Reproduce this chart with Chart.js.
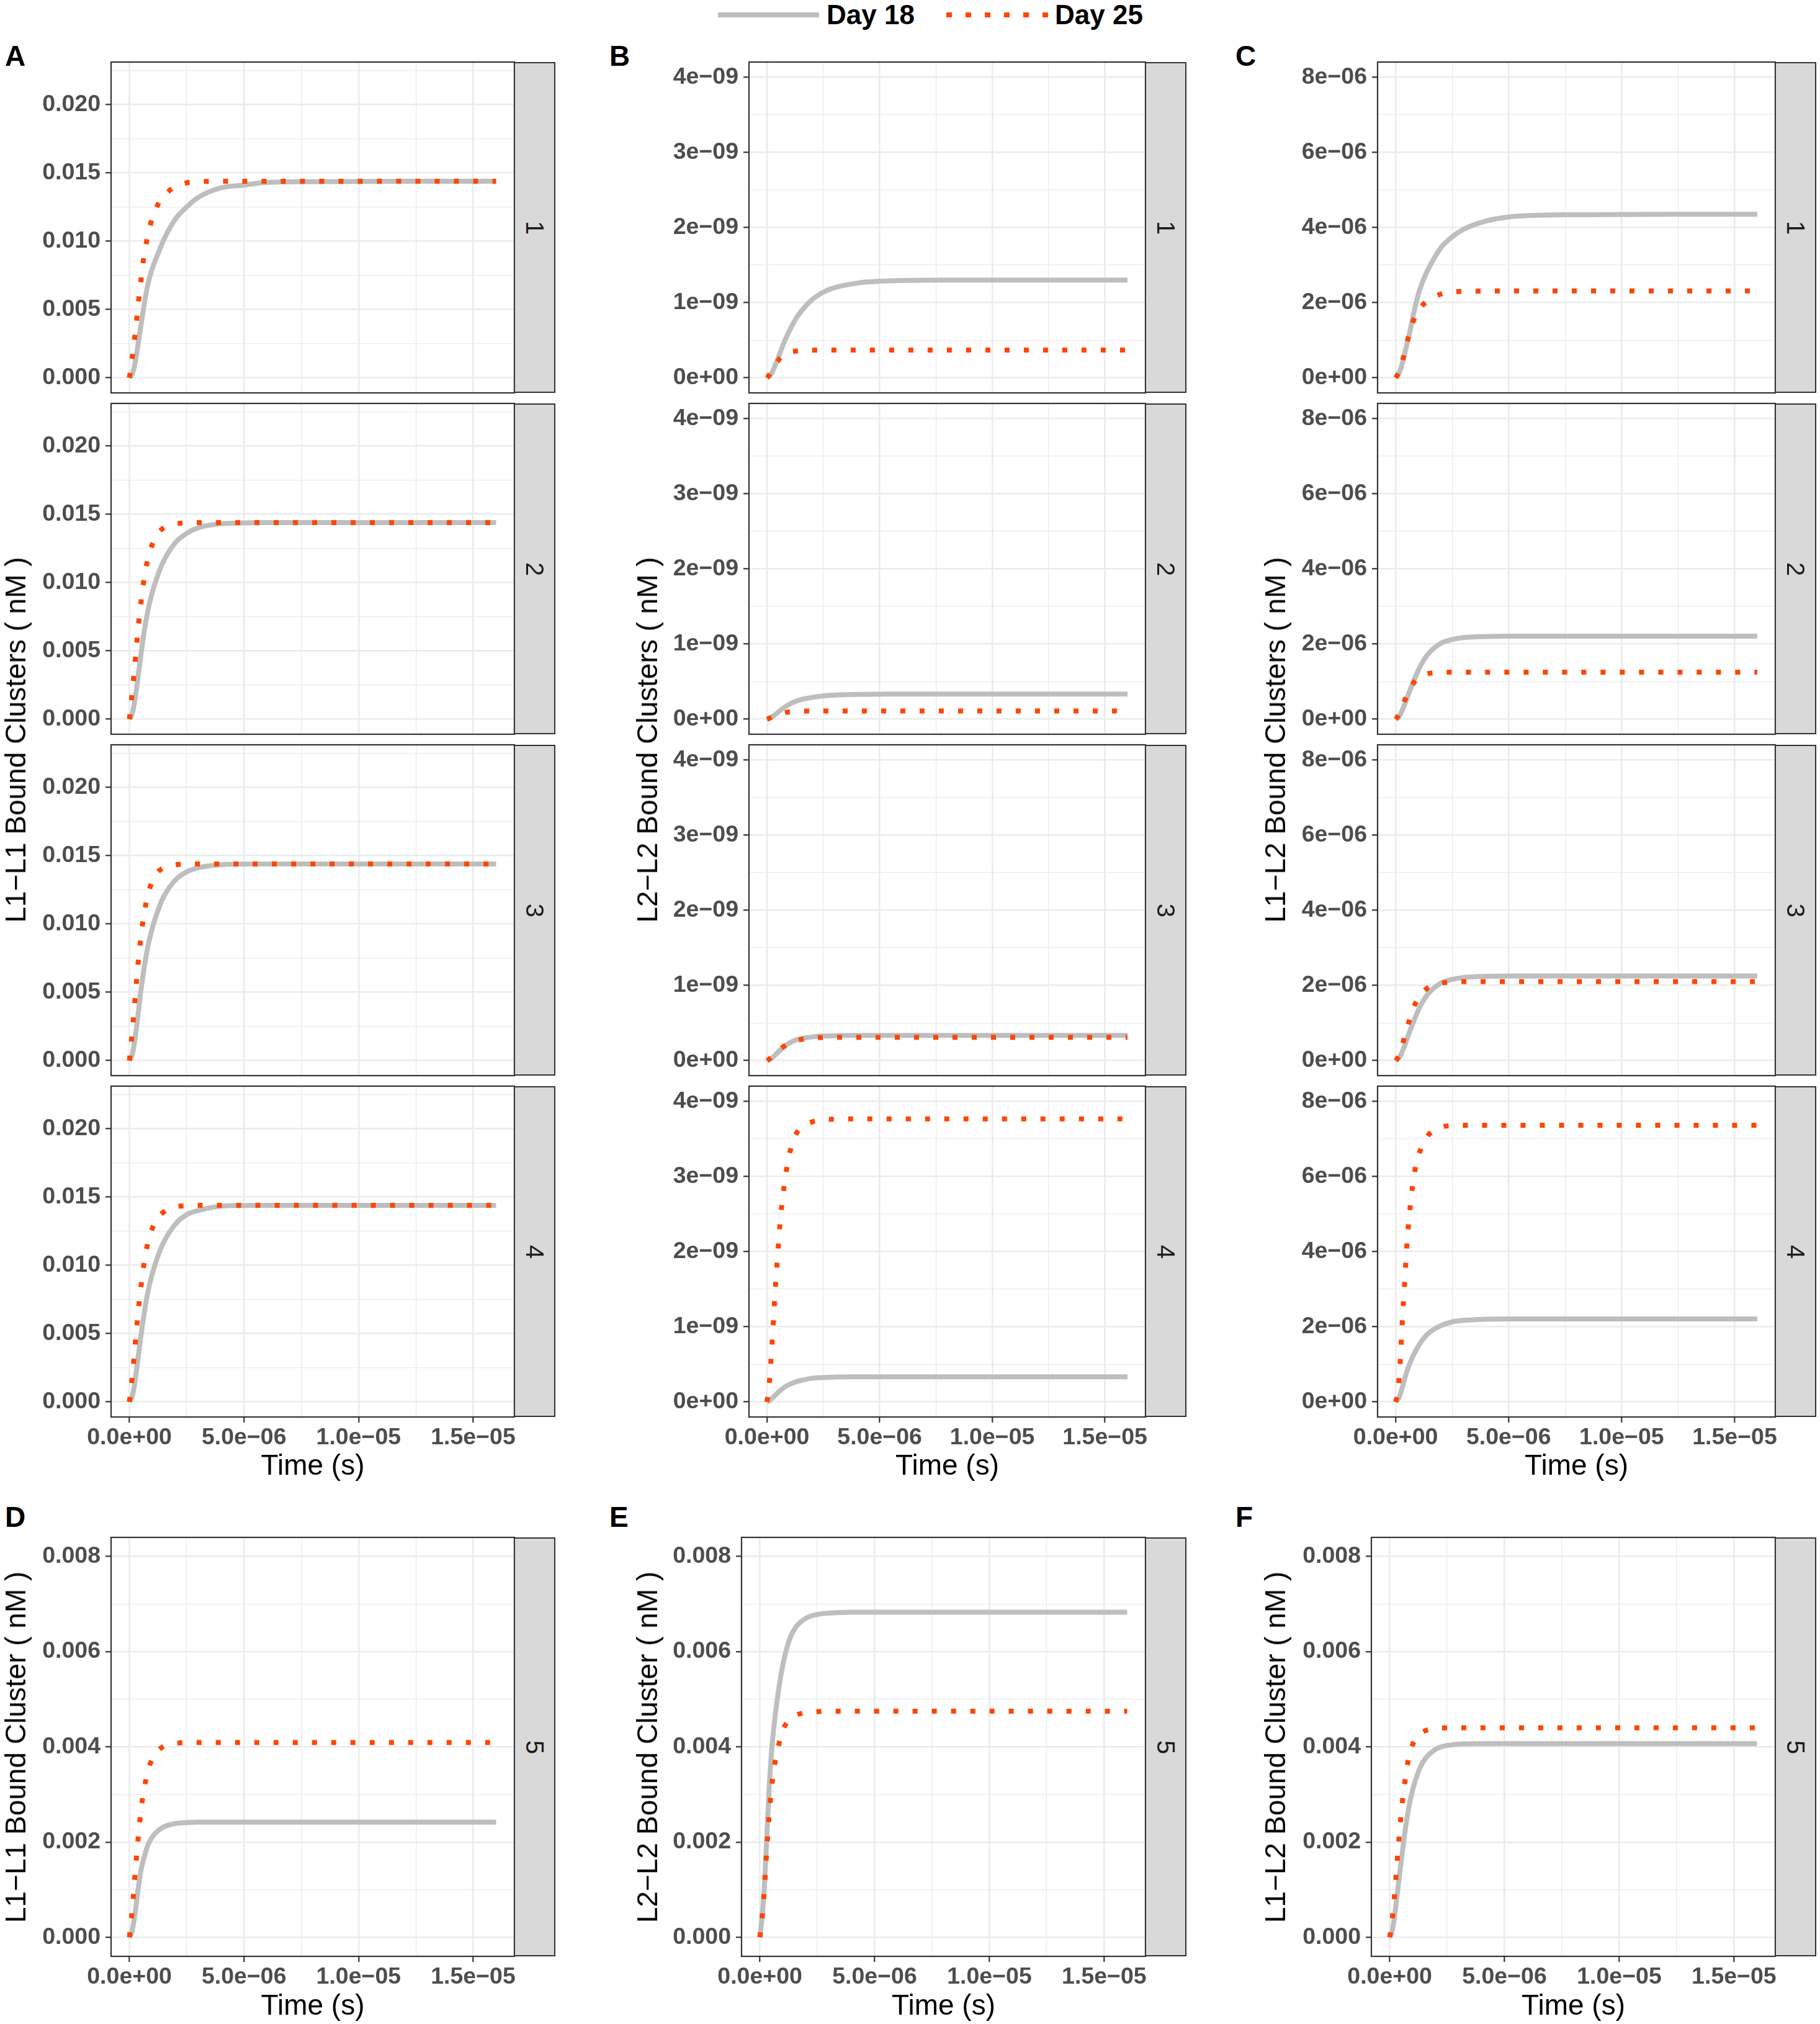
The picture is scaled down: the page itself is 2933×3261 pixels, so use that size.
<!DOCTYPE html>
<html><head><meta charset="utf-8">
<script src="https://cdn.jsdelivr.net/npm/chart.js@4.4.0/dist/chart.umd.min.js"></script>
<style>
html,body{margin:0;padding:0;background:#fff;}
body{width:2933px;height:3261px;position:relative;overflow:hidden;font-family:'Liberation Sans',Arial,Helvetica,sans-serif;}
canvas{position:absolute;}
.txt{position:absolute;z-index:5;white-space:nowrap;}
.plbl{font-weight:bold;font-size:46px;line-height:46px;color:#000;}
.xt{font-size:46px;line-height:46px;color:#000;transform:translateX(-50%);}
.yt{font-size:46px;line-height:46px;color:#000;transform:translate(-50%,-50%) rotate(-90deg);}
.strip{position:absolute;z-index:4;background:#D9D9D9;border:2px solid #333;box-sizing:border-box;}
.strip span{position:absolute;left:50%;top:50%;transform:translate(-50%,-50%) rotate(90deg);font-size:40px;line-height:40px;color:#1A1A1A;}
.leg{font-weight:bold;font-size:44px;line-height:44px;color:#000;}
</style></head><body>
<script>
// ---------- data ----------
const timeS = [0, 1e-7, 2e-7, 3e-7, 4e-7, 5e-7, 6e-7, 8e-7, 1e-6, 1.25e-6, 1.5e-6, 2e-6, 2.5e-6, 3e-6, 4e-6, 5e-6, 6e-6, 8e-6, 1.2e-5, 1.6e-5];

const seriesNames = ["Day 18", "Day 25"];

const xTickValues = [0, 2.5e-6, 5e-6, 7.5e-6, 1e-5, 1.25e-5, 1.5e-5];
const xTickLabels = ["0.0e+00", "5.0e\u221206", "1.0e\u221205", "1.5e\u221205"];

const yTicksA = [0, 0.0025, 0.005, 0.0075, 0.01, 0.0125, 0.015, 0.0175, 0.02, 0.0225];
const yLabelsA = ["0.000", "0.005", "0.010", "0.015", "0.020"];
const yTicksB = [0, 0.5e-9, 1e-9, 1.5e-9, 2e-9, 2.5e-9, 3e-9, 3.5e-9, 4e-9];
const yLabelsB = ["0e+00", "1e\u221209", "2e\u221209", "3e\u221209", "4e\u221209"];
const yTicksC = [0, 1e-6, 2e-6, 3e-6, 4e-6, 5e-6, 6e-6, 7e-6, 8e-6];
const yLabelsC = ["0e+00", "2e\u221206", "4e\u221206", "6e\u221206", "8e\u221206"];
const yTicksD = [0, 0.001, 0.002, 0.003, 0.004, 0.005, 0.006, 0.007, 0.008];
const yLabelsD = ["0.000", "0.002", "0.004", "0.006", "0.008"];

// Column A: L1-L1 bound clusters
const A1_day18 = [0, 0.0002, 0.0007, 0.0016, 0.0027, 0.0038, 0.0049, 0.0068, 0.0080, 0.0091, 0.0101, 0.0116, 0.0125, 0.0132, 0.0139, 0.0141, 0.0143, 0.01435, 0.01438, 0.01438];
const A1_day25 = [0, 0.0012, 0.0025, 0.0040, 0.0056, 0.0071, 0.0085, 0.0104, 0.0117, 0.0127, 0.0133, 0.0140, 0.01427, 0.01435, 0.01438, 0.01438, 0.01438, 0.01438, 0.01438, 0.01438];
const A2_day18 = [0, 0.0003, 0.0010, 0.0021, 0.0034, 0.0047, 0.0059, 0.0079, 0.0093, 0.0106, 0.0116, 0.0129, 0.0136, 0.0140, 0.0143, 0.01436, 0.01438, 0.01438, 0.01438, 0.01438];
const A2_day25 = [0, 0.0016, 0.0033, 0.0052, 0.0070, 0.0085, 0.0098, 0.0117, 0.0128, 0.0136, 0.0140, 0.01428, 0.01436, 0.01438, 0.01438, 0.01438, 0.01438, 0.01438, 0.01438, 0.01438];
const A3_day18 = [0, 0.0003, 0.0011, 0.0023, 0.0037, 0.0051, 0.0063, 0.0083, 0.0097, 0.0110, 0.0120, 0.0132, 0.0138, 0.0141, 0.01433, 0.01437, 0.01438, 0.01438, 0.01438, 0.01438];
const A3_day25 = [0, 0.0017, 0.0036, 0.0056, 0.0075, 0.0090, 0.0103, 0.0121, 0.0131, 0.0138, 0.0141, 0.01432, 0.01437, 0.01438, 0.01438, 0.01438, 0.01438, 0.01438, 0.01438, 0.01438];
const A4_day18 = [0, 0.0003, 0.0010, 0.0022, 0.0035, 0.0048, 0.0060, 0.0080, 0.0094, 0.0107, 0.0117, 0.0130, 0.0137, 0.0140, 0.01432, 0.01437, 0.01438, 0.01438, 0.01438, 0.01438];
const A4_day25 = [0, 0.0015, 0.0032, 0.0051, 0.0069, 0.0084, 0.0097, 0.0116, 0.0127, 0.0135, 0.0139, 0.01427, 0.01435, 0.01438, 0.01438, 0.01438, 0.01438, 0.01438, 0.01438, 0.01438];

// Column B: L2-L2 bound clusters
const B1_day18 = [0, 0.02e-9, 0.06e-9, 0.12e-9, 0.19e-9, 0.27e-9, 0.35e-9, 0.50e-9, 0.63e-9, 0.77e-9, 0.88e-9, 1.04e-9, 1.14e-9, 1.20e-9, 1.26e-9, 1.285e-9, 1.295e-9, 1.30e-9, 1.30e-9, 1.30e-9];
const B1_day25 = [0, 0.04e-9, 0.09e-9, 0.14e-9, 0.19e-9, 0.23e-9, 0.27e-9, 0.31e-9, 0.34e-9, 0.355e-9, 0.363e-9, 0.368e-9, 0.37e-9, 0.37e-9, 0.37e-9, 0.37e-9, 0.37e-9, 0.37e-9, 0.37e-9, 0.37e-9];
const B2_day18 = [0, 0.01e-9, 0.025e-9, 0.045e-9, 0.07e-9, 0.095e-9, 0.12e-9, 0.165e-9, 0.20e-9, 0.235e-9, 0.26e-9, 0.29e-9, 0.31e-9, 0.32e-9, 0.33e-9, 0.333e-9, 0.335e-9, 0.335e-9, 0.335e-9, 0.335e-9];
const B2_day25 = [0, 0.012e-9, 0.026e-9, 0.04e-9, 0.053e-9, 0.064e-9, 0.073e-9, 0.088e-9, 0.097e-9, 0.104e-9, 0.107e-9, 0.11e-9, 0.11e-9, 0.11e-9, 0.11e-9, 0.11e-9, 0.11e-9, 0.11e-9, 0.11e-9, 0.11e-9];
const B3_day18 = [0, 0.012e-9, 0.03e-9, 0.055e-9, 0.085e-9, 0.115e-9, 0.145e-9, 0.195e-9, 0.235e-9, 0.27e-9, 0.29e-9, 0.315e-9, 0.326e-9, 0.331e-9, 0.334e-9, 0.335e-9, 0.335e-9, 0.335e-9, 0.335e-9, 0.335e-9];
const B3_day25 = [0, 0.02e-9, 0.045e-9, 0.075e-9, 0.105e-9, 0.135e-9, 0.16e-9, 0.20e-9, 0.235e-9, 0.26e-9, 0.28e-9, 0.30e-9, 0.307e-9, 0.31e-9, 0.31e-9, 0.31e-9, 0.31e-9, 0.31e-9, 0.31e-9, 0.31e-9];
const B4_day18 = [0, 0.015e-9, 0.04e-9, 0.07e-9, 0.10e-9, 0.13e-9, 0.155e-9, 0.20e-9, 0.235e-9, 0.265e-9, 0.285e-9, 0.315e-9, 0.325e-9, 0.331e-9, 0.334e-9, 0.335e-9, 0.335e-9, 0.335e-9, 0.335e-9, 0.335e-9];
const B4_day25 = [0, 0.24e-9, 0.66e-9, 1.15e-9, 1.65e-9, 2.06e-9, 2.45e-9, 2.96e-9, 3.30e-9, 3.54e-9, 3.64e-9, 3.725e-9, 3.755e-9, 3.76e-9, 3.765e-9, 3.765e-9, 3.765e-9, 3.765e-9, 3.765e-9, 3.765e-9];

// Column C: L1-L2 bound clusters
const C1_day18 = [0, 0.07e-6, 0.2e-6, 0.40e-6, 0.64e-6, 0.90e-6, 1.15e-6, 1.72e-6, 2.22e-6, 2.64e-6, 2.96e-6, 3.46e-6, 3.75e-6, 3.95e-6, 4.17e-6, 4.28e-6, 4.32e-6, 4.34e-6, 4.35e-6, 4.35e-6];
const C1_day25 = [0, 0.1e-6, 0.26e-6, 0.45e-6, 0.68e-6, 0.94e-6, 1.15e-6, 1.54e-6, 1.78e-6, 1.97e-6, 2.08e-6, 2.23e-6, 2.28e-6, 2.30e-6, 2.31e-6, 2.31e-6, 2.31e-6, 2.31e-6, 2.31e-6, 2.31e-6];
const C2_day18 = [0, 0.04e-6, 0.12e-6, 0.25e-6, 0.40e-6, 0.56e-6, 0.72e-6, 1.02e-6, 1.30e-6, 1.58e-6, 1.78e-6, 2.02e-6, 2.12e-6, 2.17e-6, 2.20e-6, 2.21e-6, 2.21e-6, 2.21e-6, 2.21e-6, 2.21e-6];
const C2_day25 = [0, 0.08e-6, 0.2e-6, 0.35e-6, 0.5e-6, 0.64e-6, 0.77e-6, 0.97e-6, 1.10e-6, 1.18e-6, 1.22e-6, 1.245e-6, 1.25e-6, 1.25e-6, 1.25e-6, 1.25e-6, 1.25e-6, 1.25e-6, 1.25e-6, 1.25e-6];
const C3_day18 = [0, 0.04e-6, 0.12e-6, 0.25e-6, 0.40e-6, 0.57e-6, 0.74e-6, 1.05e-6, 1.34e-6, 1.62e-6, 1.82e-6, 2.06e-6, 2.16e-6, 2.21e-6, 2.24e-6, 2.25e-6, 2.25e-6, 2.25e-6, 2.25e-6, 2.25e-6];
const C3_day25 = [0, 0.08e-6, 0.22e-6, 0.42e-6, 0.64e-6, 0.86e-6, 1.06e-6, 1.42e-6, 1.66e-6, 1.85e-6, 1.96e-6, 2.06e-6, 2.09e-6, 2.10e-6, 2.10e-6, 2.10e-6, 2.10e-6, 2.10e-6, 2.10e-6, 2.10e-6];
const C4_day18 = [0, 0.06e-6, 0.2e-6, 0.4e-6, 0.62e-6, 0.82e-6, 0.98e-6, 1.26e-6, 1.48e-6, 1.70e-6, 1.85e-6, 2.03e-6, 2.13e-6, 2.17e-6, 2.20e-6, 2.21e-6, 2.21e-6, 2.21e-6, 2.21e-6, 2.21e-6];
const C4_day25 = [0, 0.3e-6, 1.07e-6, 2.2e-6, 3.2e-6, 4.2e-6, 4.93e-6, 5.97e-6, 6.53e-6, 6.90e-6, 7.14e-6, 7.31e-6, 7.35e-6, 7.36e-6, 7.36e-6, 7.36e-6, 7.36e-6, 7.36e-6, 7.36e-6, 7.36e-6];

// Row D/E/F: single clusters (strip 5)
const D_day18 = [0, 0.1e-3, 0.35e-3, 0.7e-3, 1.08e-3, 1.40e-3, 1.60e-3, 1.93e-3, 2.11e-3, 2.24e-3, 2.32e-3, 2.39e-3, 2.41e-3, 2.42e-3, 2.42e-3, 2.42e-3, 2.42e-3, 2.42e-3, 2.42e-3, 2.42e-3];
const D_day25 = [0, 0.45e-3, 1.05e-3, 1.64e-3, 2.18e-3, 2.65e-3, 3.0e-3, 3.48e-3, 3.75e-3, 3.92e-3, 4.01e-3, 4.07e-3, 4.09e-3, 4.09e-3, 4.09e-3, 4.09e-3, 4.09e-3, 4.09e-3, 4.09e-3, 4.09e-3];
const E_day18 = [0, 0.45e-3, 1.1e-3, 2.1e-3, 3.1e-3, 3.85e-3, 4.38e-3, 5.15e-3, 5.72e-3, 6.2e-3, 6.47e-3, 6.70e-3, 6.78e-3, 6.81e-3, 6.83e-3, 6.83e-3, 6.83e-3, 6.83e-3, 6.83e-3, 6.83e-3];
const E_day25 = [0, 0.42e-3, 1.05e-3, 1.85e-3, 2.55e-3, 3.1e-3, 3.5e-3, 4.0e-3, 4.35e-3, 4.55e-3, 4.65e-3, 4.72e-3, 4.74e-3, 4.75e-3, 4.75e-3, 4.75e-3, 4.75e-3, 4.75e-3, 4.75e-3, 4.75e-3];
const F_day18 = [0, 0.12e-3, 0.4e-3, 0.8e-3, 1.2e-3, 1.6e-3, 1.98e-3, 2.65e-3, 3.1e-3, 3.48e-3, 3.72e-3, 3.95e-3, 4.03e-3, 4.06e-3, 4.07e-3, 4.07e-3, 4.07e-3, 4.07e-3, 4.07e-3, 4.07e-3];
const F_day25 = [0, 0.35e-3, 0.85e-3, 1.45e-3, 2.05e-3, 2.6e-3, 3.05e-3, 3.7e-3, 4.05e-3, 4.25e-3, 4.33e-3, 4.39e-3, 4.4e-3, 4.4e-3, 4.4e-3, 4.4e-3, 4.4e-3, 4.4e-3, 4.4e-3, 4.4e-3];

const stripLabels = ["1", "2", "3", "4", "5"];
const panelLetters = ["A", "B", "C", "D", "E", "F"];
const yTitles = ["L1\u2212L1 Bound Clusters ( nM )", "L2\u2212L2 Bound Clusters ( nM )", "L1\u2212L2 Bound Clusters ( nM )",
                 "L1\u2212L1 Bound Cluster ( nM )", "L2\u2212L2 Bound Cluster ( nM )", "L1\u2212L2 Bound Cluster ( nM )"];
const xTitle = "Time (s)";

// ---------- layout ----------
const FONT = "'Liberation Sans', Arial, Helvetica, sans-serif";
const colsTop = [ {l:179, r:829}, {l:1207, r:1846}, {l:2220, r:2861} ];
const colsBot = [ {l:179, r:829}, {l:1195, r:1846}, {l:2210, r:2861} ];
const rowsTop = [ {t:100, b:633}, {t:650, b:1183}, {t:1200, b:1733}, {t:1750, b:2283} ];
const rowBot = {t:2477, b:3152};
const STRIPW = 67;

const topData = [
  [[A1_day18, A1_day25], [A2_day18, A2_day25], [A3_day18, A3_day25], [A4_day18, A4_day25]],
  [[B1_day18, B1_day25], [B2_day18, B2_day25], [B3_day18, B3_day25], [B4_day18, B4_day25]],
  [[C1_day18, C1_day25], [C2_day18, C2_day25], [C3_day18, C3_day25], [C4_day18, C4_day25]]
];
const topAxes = [
  {ticks: yTicksA, labels: yLabelsA, min: -0.0011, max: 0.0231},
  {ticks: yTicksB, labels: yLabelsB, min: -0.2e-9, max: 4.2e-9},
  {ticks: yTicksC, labels: yLabelsC, min: -0.4e-6, max: 8.4e-6}
];
const botData = [[D_day18, D_day25], [E_day18, E_day25], [F_day18, F_day25]];
const botAxis = {ticks: yTicksD, labels: yLabelsD, min: -0.0004, max: 0.0084};

const borderPlugin = {
  id: 'panelBorder',
  afterDraw(chart) {
    const {ctx, chartArea: a} = chart;
    ctx.save();
    ctx.strokeStyle = '#333333';
    ctx.lineWidth = 2.2;
    ctx.strokeRect(a.left, a.top, a.right - a.left, a.bottom - a.top);
    ctx.restore();
  }
};

function addText(cls, text, left, top) {
  const d = document.createElement('div');
  d.className = 'txt ' + cls;
  d.textContent = text;
  d.style.left = left + 'px';
  d.style.top = top + 'px';
  document.body.appendChild(d);
  return d;
}

function makePanel(col, row, series, axis, showX, stripText) {
  const AXW = 170, PADR = STRIPW + 6, PADT = 3, PADB = 3;
  const XH = showX ? 70 : 0;
  const plotW = col.r - col.l, plotH = row.b - row.t;
  const W = AXW + plotW + PADR, H = PADT + plotH + XH + PADB;
  const cv = document.createElement('canvas');
  cv.width = W; cv.height = H;
  cv.style.left = (col.l - AXW) + 'px';
  cv.style.top = (row.t - PADT) + 'px';
  cv.style.width = W + 'px'; cv.style.height = H + 'px';
  document.body.appendChild(cv);
  const pts = arr => timeS.map((t, i) => ({x: t, y: arr[i]}));
  new Chart(cv, {
    type: 'line',
    data: {
      datasets: [
        {label: seriesNames[0], data: pts(series[0]), borderColor: '#BEBEBE', borderWidth: 8,
         pointRadius: 0, cubicInterpolationMode: 'monotone', fill: false, order: 2, borderCapStyle: 'butt'},
        {label: seriesNames[1], data: pts(series[1]), borderColor: '#FF4500', borderWidth: 8,
         borderDash: [8, 23], borderCapStyle: 'butt', pointRadius: 0, cubicInterpolationMode: 'monotone', fill: false, order: 1}
      ]
    },
    options: {
      responsive: false, animation: false, devicePixelRatio: 1,
      layout: {padding: {left: 0, right: PADR, top: PADT, bottom: PADB}},
      plugins: {legend: {display: false}, tooltip: {enabled: false}},
      scales: {
        x: {
          type: 'linear', bounds: 'data', min: -0.8e-6, max: 16.8e-6,
          afterBuildTicks: s => { s.ticks = xTickValues.map(v => ({value: v})); },
          afterFit: s => { s.height = XH; s.paddingLeft = 0; s.paddingRight = 0; s.paddingTop = 0; s.paddingBottom = 0; },
          ticks: {display: showX, autoSkip: false, maxRotation: 0, minRotation: 0, padding: 2, color: '#4D4D4D',
                  font: {family: FONT, size: 37.5, weight: 'bold'},
                  callback: (v, i) => (i % 2 === 0 ? xTickLabels[i / 2] : '')},
          grid: {color: '#EBEBEB', lineWidth: c => (c.index % 2 === 0 ? 2.6 : 1.3), drawTicks: showX, tickLength: 9, tickWidth: 2.2,
                 tickColor: c => (c.index % 2 === 0 ? '#333333' : 'rgba(0,0,0,0)')},
          border: {display: false}
        },
        y: {
          type: 'linear', bounds: 'data', min: axis.min, max: axis.max,
          afterBuildTicks: s => { s.ticks = axis.ticks.map(v => ({value: v})); },
          afterFit: s => { s.width = AXW; s.paddingLeft = 0; s.paddingRight = 0; s.paddingTop = 0; s.paddingBottom = 0; },
          ticks: {autoSkip: false, padding: 8, color: '#4D4D4D', font: {family: FONT, size: 37.5, weight: 'bold'},
                  callback: (v, i) => (i % 2 === 0 ? axis.labels[i / 2] : '')},
          grid: {color: '#EBEBEB', lineWidth: c => (c.index % 2 === 0 ? 2.6 : 1.3), drawTicks: true, tickLength: 9, tickWidth: 2.2,
                 tickColor: c => (c.index % 2 === 0 ? '#333333' : 'rgba(0,0,0,0)')},
          border: {display: false}
        }
      }
    },
    plugins: [borderPlugin]
  });
  const st = document.createElement('div');
  st.className = 'strip';
  st.style.left = (col.r - 1) + 'px';
  st.style.top = row.t + 'px';
  st.style.width = STRIPW + 'px';
  st.style.height = plotH + 'px';
  const sp = document.createElement('span');
  sp.textContent = stripText;
  st.appendChild(sp);
  document.body.appendChild(st);
}

// top grid
for (let c = 0; c < 3; c++) {
  for (let r = 0; r < 4; r++) {
    makePanel(colsTop[c], rowsTop[r], topData[c][r], topAxes[c], r === 3, stripLabels[r]);
  }
}
// bottom row
for (let c = 0; c < 3; c++) {
  makePanel(colsBot[c], rowBot, botData[c], botAxis, true, stripLabels[4]);
}

// panel letters
const letterX = [8, 982, 1991];
for (let c = 0; c < 3; c++) {
  addText('plbl', panelLetters[c], letterX[c], 67);
  addText('plbl', panelLetters[c + 3], letterX[c], 2421);
}
// x titles
for (let c = 0; c < 3; c++) {
  addText('xt', xTitle, (colsTop[c].l + colsTop[c].r) / 2, 2337);
  addText('xt', xTitle, (colsBot[c].l + colsBot[c].r) / 2, 3207);
}
// y titles
const yTitleX = [25, 1043, 2055];
for (let c = 0; c < 3; c++) {
  addText('yt', yTitles[c], yTitleX[c], (rowsTop[0].t + rowsTop[3].b) / 2);
  addText('yt', yTitles[c + 3], yTitleX[c], (rowBot.t + rowBot.b) / 2);
}
// legend
(function () {
  const g = document.createElement('div');
  g.style.cssText = 'position:absolute;left:1157px;top:20px;width:163px;height:8px;background:#BEBEBE;z-index:5;';
  document.body.appendChild(g);
  addText('leg', seriesNames[0], 1332, 2);
  const o = document.createElement('div');
  o.style.cssText = 'position:absolute;left:1525px;top:20px;width:164px;height:8px;z-index:5;background:repeating-linear-gradient(90deg,#FF4500 0px,#FF4500 9px,rgba(255,255,255,0) 9px,rgba(255,255,255,0) 31px);';
  document.body.appendChild(o);
  addText('leg', seriesNames[1], 1700, 2);
})();
</script>
</body></html>
